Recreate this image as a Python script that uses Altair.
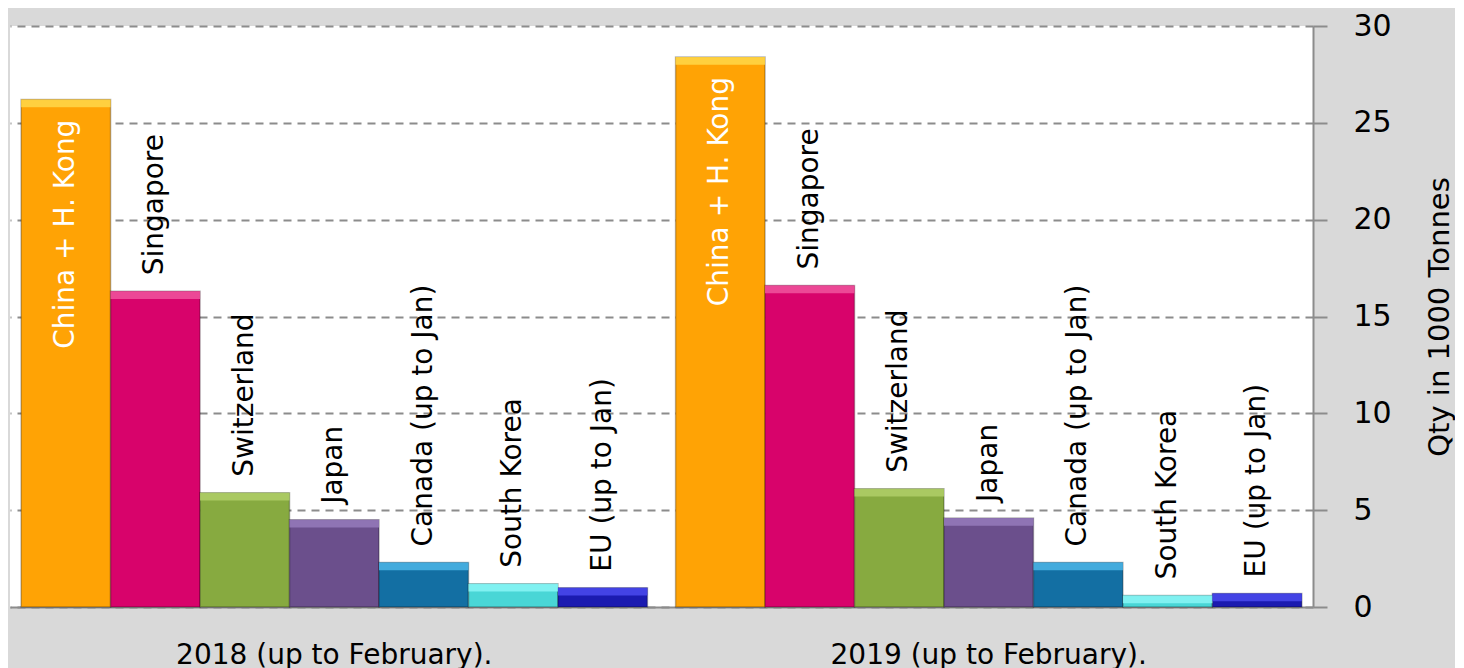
import altair as alt
import pandas as pd

groups = ["2018 (up to February).", "2019 (up to February)."]
countries = ["China + H. Kong", "Singapore", "Switzerland", "Japan",
             "Canada (up to Jan)", "South Korea", "EU (up to Jan)"]
values_2018 = [26.2, 16.3, 5.9, 4.5, 2.3, 1.2, 1.0]
values_2019 = [28.4, 16.6, 6.1, 4.6, 2.3, 0.6, 0.7]
colors = ["#ffa305", "#d8036b", "#87aa40", "#6b4f8c", "#136fa3", "#49d6d6", "#1b1bb0"]
highlight = ["#ffd84a", "#f0559e", "#b0cf68", "#957abb", "#4cb6e8", "#8af6f6", "#4a4aee"]

rows = []
for g, vals in zip(groups, [values_2018, values_2019]):
    for c, v in zip(countries, vals):
        rows.append({"group": g, "country": c, "value": v, "hl": c + " "})
df = pd.DataFrame(rows)

FONT = "DejaVu Sans"

x = alt.X("group:N", sort=groups,
          scale=alt.Scale(paddingInner=0.043, paddingOuter=0.017),
          axis=alt.Axis(title=None, labelAngle=0, ticks=False, labelFontSize=28,
                        labelFont=FONT, labelColor="#000", labelPadding=34,
                        labelLimit=600,
                        domainColor="#8c8c8c", domainWidth=2))
xo = alt.XOffset("country:N", sort=countries,
                 scale=alt.Scale(paddingInner=0, paddingOuter=0))
y = alt.Y("value:Q", scale=alt.Scale(domain=[0, 30]),
          axis=alt.Axis(orient="right", values=[0, 5, 10, 15, 20, 25, 30],
                        grid=True, gridDash=[8, 6], gridColor="#8c8c8c", gridWidth=2,
                        tickSize=14, tickColor="#8c8c8c", tickWidth=2,
                        domainColor="#8c8c8c", domainWidth=2,
                        labelFontSize=30, labelFont=FONT, labelColor="#000",
                        labelPadding=26,
                        title="Qty in 1000 Tonnes", titleAngle=270,
                        titleFontWeight="normal", titleFontSize=29, titleFont=FONT,
                        titleColor="#000", titlePadding=63))

bars = alt.Chart(df).mark_bar(stroke="#00000045", strokeWidth=1.5).encode(
    x=x, xOffset=xo, y=y,
    color=alt.Color("country:N", sort=countries,
                    scale=alt.Scale(domain=countries, range=colors), legend=None),
)

tops = alt.Chart(df).transform_calculate(
    top2="max(datum.value - 0.4, datum.value * 0.3)"
).mark_bar(opacity=0.85).encode(
    x=x, xOffset=xo, y=y, y2="top2:Q",
    fill=alt.Fill("hl:N", scale=alt.Scale(domain=[c + " " for c in countries],
                                          range=highlight), legend=None),
)

labels_out = alt.Chart(df).transform_filter(
    alt.datum.country != "China + H. Kong"
).mark_text(angle=270, align="left", baseline="middle", dx=16,
            fontSize=28, font=FONT, color="#000").encode(
    x=x, xOffset=xo, y=y, text="country:N")

labels_in = alt.Chart(df).transform_filter(
    alt.datum.country == "China + H. Kong"
).mark_text(angle=270, align="right", baseline="middle", dx=-20,
            fontSize=28, font=FONT, color="#ffffff").encode(
    x=x, xOffset=xo, y=y, text="country:N")

chart = alt.layer(bars, tops, labels_out, labels_in).properties(
    width=1303, height=581,
    padding={"left": 2, "top": 3, "right": 0, "bottom": 10},
    background="#d9d9d9",
).configure_view(fill="#ffffff", stroke=None)

chart.save("out.html", embed_options={"renderer": "svg", "actions": False})
